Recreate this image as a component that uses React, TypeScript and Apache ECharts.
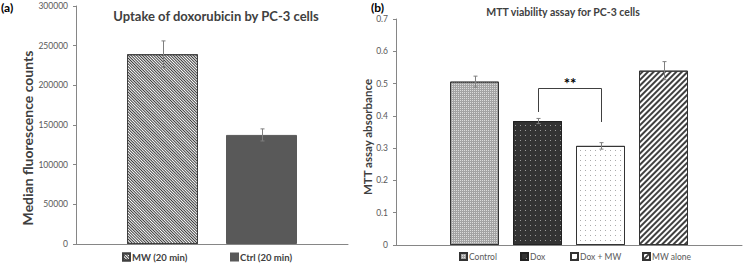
import React, { useEffect, useRef } from "react";
import * as echarts from "echarts";

// ---- Panel (a) data ----
const aSeriesNames = ["MW (20 min)", "Ctrl (20 min)"];
const aValues = [239200, 137500];
const aErrors = [16800, 7600];
const aTicks = [0, 50000, 100000, 150000, 200000, 250000, 300000];

// ---- Panel (b) data ----
const bSeriesNames = ["Control", "Dox", "Dox + MW", "MW alone"];
const bValues = [0.506, 0.384, 0.307, 0.54];
const bErrors = [0.017, 0.008, 0.01, 0.028];
const bTicks = [0, 0.1, 0.2, 0.3, 0.4, 0.5, 0.6, 0.7];

// significance bracket between Dox (1) and Dox + MW (2)
const bracketFrom = 1;
const bracketTo = 2;
const bracketLeftEnd = 0.412;
const bracketTop = 0.486;
const bracketRightEnd = 0.381;
const starLevel = 0.508;
const starText = "**";

const FONT = "Lato, 'Open Sans', sans-serif";

const A_BAR_W = 71;
const A_GAP = 28;
const B_BAR_W = 49;
const B_GAP = 14;

// legend entry positions (px from left)
const aLegendLeft = [122, 230];
const bLegendLeft = [459, 520, 570, 642];

const aStyles: any[] = [
  {
    color: "#ffffff",
    borderColor: "#404040",
    borderWidth: 1,
    decal: {
      symbol: "rect",
      symbolSize: 1,
      dashArrayX: [1, 0],
      dashArrayY: [1, 1],
      rotation: Math.PI / 4,
      color: "#3a3a3a",
    },
  },
  { color: "#595959", borderColor: "#595959", borderWidth: 1 },
];

const bStyles: any[] = [
  {
    color: "#a3a3a3",
    borderColor: "#333333",
    borderWidth: 1,
    decal: {
      symbol: "rect",
      symbolSize: 1,
      dashArrayX: [1, 1],
      dashArrayY: [1, 1],
      color: "#dcdcdc",
    },
  },
  {
    color: "#333333",
    borderColor: "#222222",
    borderWidth: 1,
    decal: {
      symbol: "rect",
      symbolSize: 1,
      dashArrayX: [1, 4],
      dashArrayY: [1, 4],
      color: "#9a9a9a",
    },
  },
  {
    color: "#ffffff",
    borderColor: "#333333",
    borderWidth: 1,
    decal: {
      symbol: "rect",
      symbolSize: 1,
      dashArrayX: [1, 4],
      dashArrayY: [1, 4],
      color: "#aaaaaa",
    },
  },
  {
    color: "#ffffff",
    borderColor: "#333333",
    borderWidth: 1,
    decal: {
      symbol: "rect",
      symbolSize: 1,
      dashArrayX: [1, 0],
      dashArrayY: [1.5, 2],
      rotation: -Math.PI / 4,
      color: "#404040",
    },
  },
];

function errorSeries(
  values: number[],
  errors: number[],
  axisIndex: number,
  barW: number,
  gap: number,
  color: string
) {
  const n = values.length;
  return {
    type: "custom",
    xAxisIndex: axisIndex,
    yAxisIndex: axisIndex,
    z: 10,
    silent: true,
    data: values.map((v, i) => [0, v - errors[i], v + errors[i], i]),
    encode: { x: 0, y: [1, 2] },
    renderItem: (params: any, api: any) => {
      const lo = api.coord([0, api.value(1)]);
      const hi = api.coord([0, api.value(2)]);
      const i = api.value(3);
      const x = Math.round(lo[0] + (i - (n - 1) / 2) * (barW + gap)) + 0.5;
      const st = { stroke: color, lineWidth: 1 };
      return {
        type: "group",
        children: [
          { type: "line", shape: { x1: x, y1: lo[1], x2: x, y2: hi[1] }, style: st },
          { type: "line", shape: { x1: x - 2, y1: hi[1], x2: x + 2, y2: hi[1] }, style: st },
          { type: "line", shape: { x1: x - 2, y1: lo[1], x2: x + 2, y2: lo[1] }, style: st },
        ],
      };
    },
  };
}

export default function App() {
  const ref = useRef<HTMLDivElement>(null);

  useEffect(() => {
    if (!ref.current) return;
    const chart = echarts.init(ref.current, undefined, { renderer: "svg" });

    const axisCommon = {
      axisLine: { show: true, lineStyle: { color: "#868686", width: 1 } },
      splitLine: { show: false },
    };

    const bN = bValues.length;

    const legendA = aSeriesNames.map((name, i) => ({
      data: [name],
      left: aLegendLeft[i],
      top: 252,
      padding: 0,
      itemWidth: 7,
      itemHeight: 7,
      icon: "rect",
      textStyle: { fontSize: 9.5, fontWeight: "bold", color: "#404040", fontFamily: FONT, padding: [0, 0, 0, -3] },
    }));
    const legendB = bSeriesNames.map((name, i) => ({
      data: [name],
      left: bLegendLeft[i],
      top: 252,
      padding: 0,
      itemWidth: 7,
      itemHeight: 7,
      icon: "rect",
      textStyle: { fontSize: 8.5, color: "#595959", fontFamily: FONT, padding: [0, 0, 0, -3] },
    }));

    const option: any = {
      animation: false,
      backgroundColor: "#ffffff",
      textStyle: { fontFamily: FONT },
      graphic: [
        {
          type: "text",
          left: 1,
          top: 1,
          style: { text: "(a)", font: `bold 12px ${FONT}`, fill: "#000" },
        },
        {
          type: "text",
          x: 216,
          y: 16,
          style: {
            text: "Uptake of doxorubicin by PC-3 cells",
            font: `bold 13px ${FONT}`,
            fill: "#404040",
            align: "center",
            verticalAlign: "middle",
          },
        },
        {
          type: "text",
          x: 27,
          y: 138,
          rotation: Math.PI / 2,
          style: {
            text: "Median fluorescence counts",
            font: `bold 14px ${FONT}`,
            fill: "#404040",
            align: "center",
            verticalAlign: "middle",
          },
        },
        {
          type: "text",
          left: 371,
          top: 1,
          style: { text: "(b)", font: `bold 12px ${FONT}`, fill: "#000" },
        },
        {
          type: "text",
          x: 563,
          y: 12,
          style: {
            text: "MTT viability assay for PC-3 cells",
            font: `bold 10.5px ${FONT}`,
            fill: "#404040",
            align: "center",
            verticalAlign: "middle",
          },
        },
        {
          type: "text",
          x: 367,
          y: 137,
          rotation: Math.PI / 2,
          style: {
            text: "MTT assay absorbance",
            font: `bold 11.5px ${FONT}`,
            fill: "#404040",
            align: "center",
            verticalAlign: "middle",
          },
        },
      ],
      legend: [...legendA, ...legendB],
      grid: [
        { left: 76, right: 396, top: 6, bottom: 21, containLabel: false },
        { left: 396, right: 2, top: 19, bottom: 20, containLabel: false },
      ],
      xAxis: [
        {
          type: "category",
          gridIndex: 0,
          data: [""],
          ...axisCommon,
          axisTick: { show: false },
          axisLabel: { show: false },
        },
        {
          type: "category",
          gridIndex: 1,
          data: [""],
          ...axisCommon,
          axisTick: { show: false },
          axisLabel: { show: false },
        },
      ],
      yAxis: [
        {
          type: "value",
          gridIndex: 0,
          min: aTicks[0],
          max: aTicks[aTicks.length - 1],
          interval: aTicks[1] - aTicks[0],
          ...axisCommon,
          axisTick: { show: true, length: 3, lineStyle: { color: "#868686" } },
          axisLabel: { fontSize: 8.5, color: "#595959", margin: 8, formatter: (v: number) => String(v) },
        },
        {
          type: "value",
          gridIndex: 1,
          min: bTicks[0],
          max: bTicks[bTicks.length - 1],
          interval: 0.1,
          ...axisCommon,
          axisTick: { show: true, length: 3, lineStyle: { color: "#868686" } },
          axisLabel: {
            fontSize: 8.5,
            color: "#595959",
            margin: 8,
            formatter: (v: number) => String(Math.round(v * 10) / 10),
          },
        },
      ],
      series: [
        ...aSeriesNames.map((name, i) => ({
          type: "bar",
          name,
          xAxisIndex: 0,
          yAxisIndex: 0,
          barWidth: A_BAR_W,
          barGap: `${(A_GAP / A_BAR_W) * 100}%`,
          itemStyle: aStyles[i],
          data: [aValues[i]],
        })),
        ...bSeriesNames.map((name, i) => ({
          type: "bar",
          name,
          xAxisIndex: 1,
          yAxisIndex: 1,
          barWidth: B_BAR_W,
          barGap: `${(B_GAP / B_BAR_W) * 100}%`,
          itemStyle: bStyles[i],
          data: [bValues[i]],
        })),
        errorSeries(aValues, aErrors, 0, A_BAR_W, A_GAP, "#7f7f7f"),
        errorSeries(bValues, bErrors, 1, B_BAR_W, B_GAP, "#7f7f7f"),
        {
          type: "custom",
          xAxisIndex: 1,
          yAxisIndex: 1,
          z: 11,
          silent: true,
          data: [[0, bracketLeftEnd, bracketTop, bracketRightEnd, starLevel]],
          encode: { x: 0, y: [1, 2, 3, 4] },
          renderItem: (params: any, api: any) => {
            const c = api.coord([0, api.value(2)]);
            const offs = (k: number) => (k - (bN - 1) / 2) * (B_BAR_W + B_GAP);
            const x1 = Math.round(c[0] + offs(bracketFrom)) + 0.5;
            const x2 = Math.round(c[0] + offs(bracketTo)) + 0.5;
            const yl = api.coord([0, api.value(1)])[1];
            const yt = Math.round(c[1]) + 0.5;
            const yr = api.coord([0, api.value(3)])[1];
            const ys = api.coord([0, api.value(4)])[1];
            return {
              type: "group",
              children: [
                {
                  type: "polyline",
                  shape: { points: [[x1, yl], [x1, yt], [x2, yt], [x2, yr]] },
                  style: { stroke: "#404040", lineWidth: 1, fill: "none" },
                },
                {
                  type: "text",
                  x: (x1 + x2) / 2,
                  y: ys + 2,
                  style: {
                    text: starText,
                    font: `bold 15px ${FONT}`,
                    fill: "#000",
                    align: "center",
                    verticalAlign: "middle",
                  },
                },
              ],
            };
          },
        },
      ],
    };

    chart.setOption(option);
    return () => chart.dispose();
  }, []);

  return <div ref={ref} style={{ width: 744, height: 265, position: "absolute", left: 0, top: 0 }} />;
}
